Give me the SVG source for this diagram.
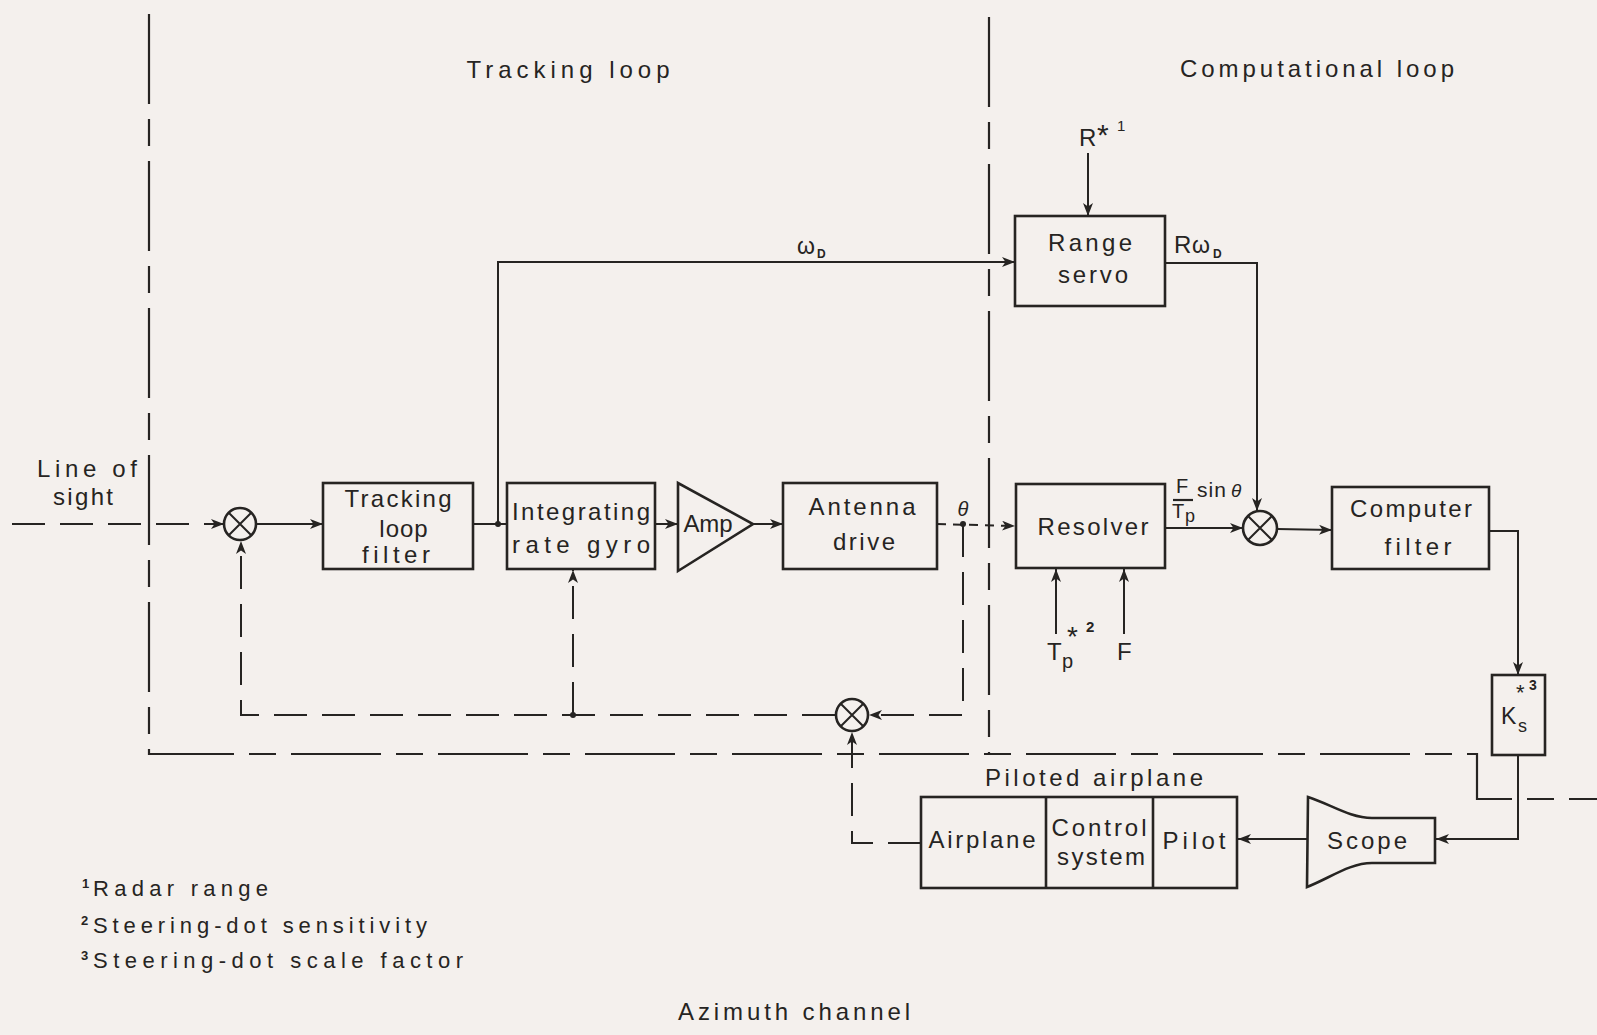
<svg xmlns="http://www.w3.org/2000/svg" width="1597" height="1035" viewBox="0 0 1597 1035">
<defs>
<style>
.t{font-family:"Liberation Sans","DejaVu Sans",sans-serif;font-size:24px;fill:#262422;text-anchor:middle}
.s{font-family:"Liberation Sans","DejaVu Sans",sans-serif;fill:#262422}
.fn{font-family:"Liberation Sans","DejaVu Sans",sans-serif;font-size:22px;fill:#262422}
.box{fill:none;stroke:#262422;stroke-width:2.6}
.ln{fill:none;stroke:#262422;stroke-width:2}
.da{stroke-dasharray:33 15}
.ds{stroke-dasharray:9 7}
.ph{fill:none;stroke:#262422;stroke-width:2.2;stroke-dasharray:90 15 27 15}
.arr{marker-end:url(#ah)}
</style>
<marker id="ah" markerUnits="userSpaceOnUse" markerWidth="16" markerHeight="12" refX="13" refY="5" orient="auto">
<path d="M0,0 L13,5 L0,10 L3.5,5 Z" fill="#262422"/>
</marker>
</defs>
<rect x="0" y="0" width="1597" height="1035" fill="#f4f0ed"/>

<g id="boundaries">
<path class="ph" d="M149,14 L149,754 L1477,754 L1477,799 L1597,799"/>
<path class="ph" d="M989,17 L989,754"/>
</g>

<g id="titles">
<text class="t" x="568" y="78" textLength="203" lengthAdjust="spacing">Tracking  loop</text>
<text class="t" x="1317" y="77" textLength="274" lengthAdjust="spacing">Computational  loop</text>
<text class="t" x="87" y="477" textLength="100" lengthAdjust="spacing">Line  of</text>
<text class="t" x="83" y="505" textLength="60" lengthAdjust="spacing">sight</text>
<text class="t" x="794" y="1020" textLength="232" lengthAdjust="spacing">Azimuth  channel</text>
</g>

<g id="connectors">
<path class="ln da arr" d="M12,524 L224,524"/>
<path class="ln arr" d="M257,524 L323,524"/>
<path class="ln" d="M473,524 L507,524"/>
<circle cx="498" cy="524" r="3" fill="#262422"/>
<path class="ln arr" d="M498,524 L498,262 L1015,262"/>
<path class="ln arr" d="M655,524 L678,524"/>
<path class="ln arr" d="M753,524 L783,524"/>
<path class="ln ds arr" d="M937,524 L1015,526"/>
<circle cx="963" cy="524" r="3" fill="#262422"/>
<path class="ln da arr" d="M963,524 L963,715 L869,715"/>
<path class="ln da arr" d="M835,715 L241,715 L241,541"/>
<circle cx="573" cy="715" r="3" fill="#262422"/>
<path class="ln da arr" d="M573,715 L573,570"/>
<path class="ln da arr" d="M921,843 L852,843 L852,732"/>
<path class="ln arr" d="M1088,153 L1088,216"/>
<path class="ln arr" d="M1165,263 L1257,263 L1257,511"/>
<path class="ln arr" d="M1165,528 L1243,528"/>
<path class="ln arr" d="M1056,634 L1056,569"/>
<path class="ln arr" d="M1124,634 L1124,569"/>
<path class="ln arr" d="M1277,529 L1332,530"/>
<path class="ln arr" d="M1489,531 L1518,531 L1518,675"/>
<path class="ln arr" d="M1518,755 L1518,839 L1436,839"/>
<path class="ln arr" d="M1307,839 L1238,839"/>
</g>

<g id="sum1">
<circle cx="240" cy="524" r="16" class="box" stroke-width="2.4"/>
<path class="ln" d="M229,513 L251,535 M251,513 L229,535"/>
</g>
<g id="sum2">
<circle cx="852" cy="715" r="16" class="box" stroke-width="2.4"/>
<path class="ln" d="M841,704 L863,726 M863,704 L841,726"/>
</g>
<g id="sum3">
<circle cx="1260" cy="528" r="17" class="box" stroke-width="2.4"/>
<path class="ln" d="M1248,516 L1272,540 M1272,516 L1248,540"/>
</g>

<g id="tracking-loop-filter">
<rect class="box" x="323" y="483" width="150" height="86"/>
<text class="t" x="398" y="507" textLength="107" lengthAdjust="spacing">Tracking</text>
<text class="t" x="404" y="537" letter-spacing="1">loop</text>
<text class="t" x="396" y="563" textLength="68" lengthAdjust="spacing">filter</text>
</g>

<g id="integrating-rate-gyro">
<rect class="box" x="507" y="483" width="148" height="86"/>
<text class="t" x="581" y="520" textLength="138" lengthAdjust="spacing">Integrating</text>
<text class="t" x="581" y="553" textLength="138" lengthAdjust="spacing">rate   gyro</text>
</g>

<g id="amp">
<polygon class="box" points="678,483 678,571 753,524"/>
<text class="t" x="708" y="532" textLength="49" lengthAdjust="spacing">Amp</text>
</g>

<g id="antenna-drive">
<rect class="box" x="783" y="483" width="154" height="86"/>
<text class="t" x="862" y="515" textLength="107" lengthAdjust="spacing">Antenna</text>
<text class="t" x="864" y="550" textLength="62" lengthAdjust="spacing">drive</text>
</g>

<g id="theta-label">
<text class="s" x="963" y="516" font-size="20" font-style="italic" text-anchor="middle">θ</text>
</g>

<g id="range-servo">
<rect class="box" x="1015" y="216" width="150" height="90"/>
<text class="t" x="1090" y="251" textLength="84" lengthAdjust="spacing">Range</text>
<text class="t" x="1093" y="283" textLength="70" lengthAdjust="spacing">servo</text>
</g>

<g id="range-input">
<text class="s" x="1079" y="146" font-size="24">R</text>
<text class="s" x="1097" y="145" font-size="30">*</text>
<text class="s" x="1117" y="131" font-size="15">1</text>
</g>

<g id="signal-labels">
<text class="s" x="797" y="254" font-size="23">ω</text>
<text class="s" x="817" y="258" font-size="12" font-weight="bold">D</text>
<text class="s" x="1174" y="253" font-size="24">R</text>
<text class="s" x="1192" y="253" font-size="23">ω</text>
<text class="s" x="1213" y="258" font-size="12" font-weight="bold">D</text>
<text class="s" x="1176" y="493" font-size="20">F</text>
<line x1="1173" y1="500" x2="1193" y2="500" stroke="#262422" stroke-width="2.2"/>
<text class="s" x="1172" y="518" font-size="20">T</text>
<text class="s" x="1185" y="522" font-size="18">p</text>
<text class="s" x="1197" y="497" font-size="21" letter-spacing="1">sin</text>
<text class="s" x="1231" y="497" font-size="19" font-style="italic">θ</text>
</g>

<g id="resolver">
<rect class="box" x="1016" y="484" width="149" height="84"/>
<text class="t" x="1093" y="535" textLength="111" lengthAdjust="spacing">Resolver</text>
</g>

<g id="resolver-inputs">
<text class="s" x="1047" y="660" font-size="24">T</text>
<text class="s" x="1062" y="668" font-size="20">p</text>
<text class="s" x="1067" y="646" font-size="28">*</text>
<text class="s" x="1086" y="632" font-size="15" font-weight="bold">2</text>
<text class="s" x="1117" y="660" font-size="24">F</text>
</g>

<g id="computer-filter">
<rect class="box" x="1332" y="487" width="157" height="82"/>
<text class="t" x="1411" y="517" textLength="122" lengthAdjust="spacing">Computer</text>
<text class="t" x="1418" y="555" textLength="67" lengthAdjust="spacing">filter</text>
</g>

<g id="ks">
<rect class="box" x="1492" y="675" width="53" height="80"/>
<text class="s" x="1501" y="724" font-size="23">K</text>
<text class="s" x="1518" y="732" font-size="18">s</text>
<text class="s" x="1516" y="700" font-size="22">*</text>
<text class="s" x="1529" y="690" font-size="14" font-weight="bold">3</text>
</g>

<g id="scope">
<path class="box" d="M1308,797 C1330,804 1350,818 1372,818 L1435,818 L1435,863 L1372,863 C1350,863 1330,878 1307,887 Z"/>
<text class="t" x="1367" y="849" textLength="80" lengthAdjust="spacing">Scope</text>
</g>

<g id="piloted-airplane">
<text class="t" x="1094" y="786" textLength="218" lengthAdjust="spacing">Piloted  airplane</text>
<rect class="box" x="921" y="797" width="316" height="91"/>
<line class="box" x1="1046" y1="797" x2="1046" y2="888"/>
<line class="box" x1="1153" y1="797" x2="1153" y2="888"/>
<text class="t" x="982" y="848" textLength="107" lengthAdjust="spacing">Airplane</text>
<text class="t" x="1099" y="836" textLength="95" lengthAdjust="spacing">Control</text>
<text class="t" x="1101" y="865" textLength="88" lengthAdjust="spacing">system</text>
<text class="t" x="1194" y="849" textLength="63" lengthAdjust="spacing">Pilot</text>
</g>

<g id="footnotes">
<text class="s" x="82" y="888" font-size="13" font-weight="bold">1</text>
<text class="fn" x="93" y="896" textLength="175" lengthAdjust="spacing">Radar  range</text>
<text class="s" x="81" y="925" font-size="13" font-weight="bold">2</text>
<text class="fn" x="93" y="933" textLength="334" lengthAdjust="spacing">Steering-dot  sensitivity</text>
<text class="s" x="81" y="960" font-size="13" font-weight="bold">3</text>
<text class="fn" x="93" y="968" textLength="370" lengthAdjust="spacing">Steering-dot  scale  factor</text>
</g>
</svg>
